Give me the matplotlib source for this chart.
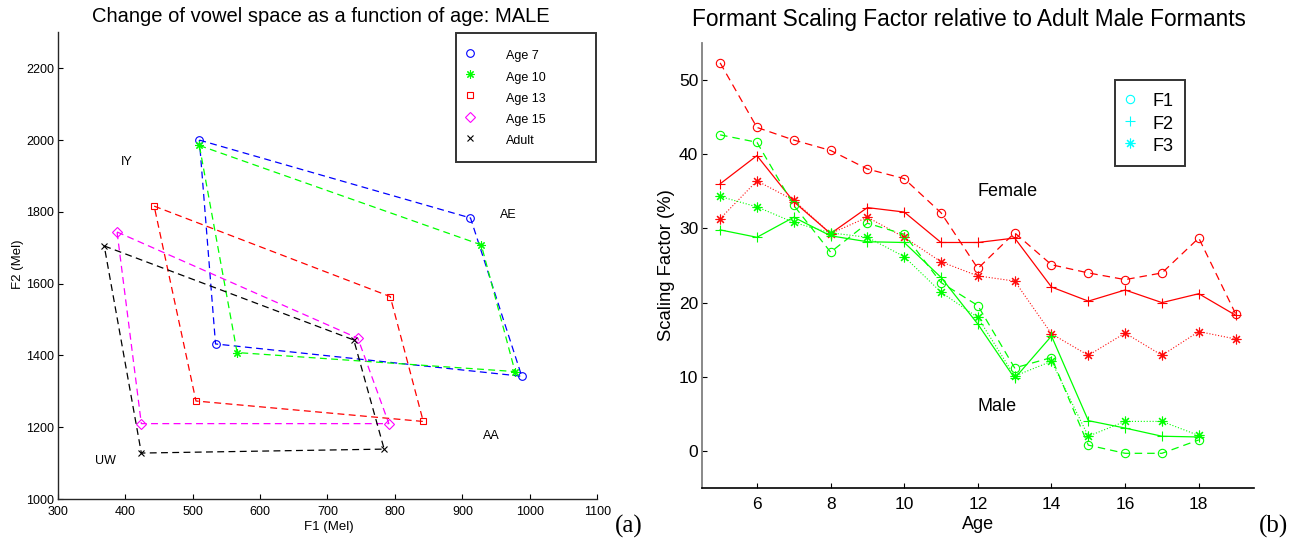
import numpy as np
import matplotlib
matplotlib.use('Agg')
import matplotlib.pyplot as plt
from matplotlib.lines import Line2D

plt.rcParams['font.family'] = ['Liberation Sans', 'DejaVu Sans']

# ---------------- Left panel data (vowel corners IY, AE, AA, UW) ----------------
vowels = ['IY', 'AE', 'AA', 'UW']
group_labels = ['Age 7', 'Age 10', 'Age 13', 'Age 15', 'Adult']
f1_age7 = [510, 912, 988, 534]
f2_age7 = [2000, 1783, 1342, 1432]
f1_age10 = [510, 928, 978, 566]
f2_age10 = [1985, 1708, 1355, 1408]
f1_age13 = [443, 793, 842, 505]
f2_age13 = [1816, 1564, 1216, 1273]
f1_age15 = [388, 745, 791, 424]
f2_age15 = [1744, 1448, 1210, 1210]
f1_adult = [369, 739, 784, 424]
f2_adult = [1705, 1443, 1139, 1128]
vowel_label_f1 = [393, 956, 931, 356]
vowel_label_f2 = [1938, 1790, 1175, 1106]
x_ticks_left = [300, 400, 500, 600, 700, 800, 900, 1000, 1100]
y_ticks_left = [1000, 1200, 1400, 1600, 1800, 2000, 2200]

# ---------------- Right panel data ----------------
ages_female = [5, 6, 7, 8, 9, 10, 11, 12, 13, 14, 15, 16, 17, 18, 19]
ages_male = [5, 6, 7, 8, 9, 10, 11, 12, 13, 14, 15, 16, 17, 18]
female_f1 = [52.3, 43.6, 41.9, 40.5, 38.0, 36.7, 32.1, 24.6, 29.4, 25.1, 24.0, 23.1, 24.0, 28.7, 18.5]
female_f2 = [36.0, 39.8, 33.6, 29.3, 32.8, 32.2, 28.1, 28.1, 28.7, 22.1, 20.2, 21.7, 20.0, 21.2, 18.3]
female_f3 = [31.3, 36.4, 33.8, 29.3, 31.5, 28.8, 25.5, 23.6, 22.9, 15.8, 12.9, 15.9, 12.9, 16.1, 15.1]
male_f1 = [42.6, 41.6, 33.1, 26.8, 30.7, 29.2, 22.7, 19.6, 11.2, 12.6, 0.8, -0.3, -0.3, 1.5]
male_f2 = [29.8, 28.8, 31.5, 29.0, 28.2, 28.1, 23.4, 17.1, 9.8, 15.5, 4.1, 3.1, 2.0, 1.9]
male_f3 = [34.3, 32.9, 30.8, 29.4, 28.8, 26.2, 21.4, 18.0, 10.1, 12.1, 2.0, 4.0, 4.0, 2.1]
formant_labels = ['F1', 'F2', 'F3']
x_ticks_right = [6, 8, 10, 12, 14, 16, 18]
y_ticks_right = [0, 10, 20, 30, 40, 50]

W, H = 1305, 543
fig = plt.figure(figsize=(W / 100, H / 100), dpi=100)

def px_axes(l, t, r, b):
    return fig.add_axes([l / W, 1 - b / H, (r - l) / W, (b - t) / H])

# ================= Left panel =================
ax1 = px_axes(57.7, 32.4, 597.3, 499.0)
styles = [
    ('#0000ff', 'o', 5.5),
    ('#00ff00', (8, 2, 0), 6.0),
    ('#ff0000', 's', 5.0),
    ('#ff00ff', 'D', 5.5),
    ('#000000', 'x', 4.5),
]
groups = [(f1_age7, f2_age7), (f1_age10, f2_age10), (f1_age13, f2_age13),
          (f1_age15, f2_age15), (f1_adult, f2_adult)]
handles = []
for (f1, f2), (col, mk, ms), lab in zip(groups, styles, group_labels):
    xs = np.r_[f1, f1[:1]]
    ys = np.r_[f2, f2[:1]]
    ax1.plot(xs, ys, color=col, lw=0.9, dashes=(5.5, 3.5))
    ax1.plot(f1, f2, linestyle='none', marker=mk, ms=ms, mfc='none', mec=col, mew=0.8)
    handles.append(Line2D([], [], linestyle='none', marker=mk, ms=ms, mfc='none', mec=col, mew=0.8, label=lab))

for v, x, y in zip(vowels, vowel_label_f1, vowel_label_f2):
    ax1.text(x, y, v, fontsize=9, ha='left', va='center')

ax1.set_xlim(300, 1100)
ax1.set_ylim(1000, 2300)
ax1.set_xticks(x_ticks_left)
ax1.set_yticks(y_ticks_left)
ax1.tick_params(direction='in', length=3.6, width=0.8, labelsize=9)
ax1.tick_params(axis='x', pad=5)
ax1.tick_params(axis='y', pad=2.4)
for s in ['top', 'right']:
    ax1.spines[s].set_visible(False)
for s in ['left', 'bottom']:
    ax1.spines[s].set_color('#262626')
    ax1.spines[s].set_linewidth(1.0)

leg1 = ax1.legend(handles=handles, loc='upper left', bbox_to_anchor=(0.7376, 0.0, 0.2600, 0.998),
                  mode='expand', borderaxespad=0, fontsize=9, frameon=True, fancybox=False,
                  borderpad=1.06, handleheight=1.8, labelspacing=0.28, handlelength=0.1,
                  handletextpad=2.86)
leg1.get_frame().set_edgecolor('black')
leg1.get_frame().set_linewidth(1.4)

fig.text(321.3 / W, 1 - 22.3 / H, 'Change of vowel space as a function of age: MALE',
         fontsize=14.5, ha='center', va='baseline')
fig.text(328.8 / W, 1 - 530.0 / H, 'F1 (Mel)', fontsize=9.5, ha='center', va='baseline')
fig.text(18.0 / W, 1 - 264.0 / H, 'F2 (Mel)', fontsize=9.5, ha='center', va='center', rotation=90)

# ================= Right panel =================
ax2 = px_axes(701.7, 42.8, 1254.0, 488.2)
red, green = '#ff0000', '#00ff00'
ax2.plot(ages_female, female_f1, color=red, lw=0.9, dashes=(6, 4), marker='o', ms=6, mfc='none', mew=0.8)
ax2.plot(ages_female, female_f2, color=red, lw=0.9, linestyle='-', marker='+', ms=7, mew=0.8)
ax2.plot(ages_female, female_f3, color=red, lw=0.8, linestyle=':', marker=(8, 2, 0), ms=7, mew=0.8, alpha=0.95)
ax2.plot(ages_male, male_f1, color=green, lw=0.9, dashes=(6, 4), marker='o', ms=6, mfc='none', mew=0.8)
ax2.plot(ages_male, male_f2, color=green, lw=0.9, linestyle='-', marker='+', ms=7, mew=0.8)
ax2.plot(ages_male, male_f3, color=green, lw=0.8, linestyle=':', marker=(8, 2, 0), ms=7, mew=0.8)

ax2.text(12, 35, 'Female', fontsize=13, ha='left', va='center')
ax2.text(12, 6, 'Male', fontsize=13, ha='left', va='center')

ax2.set_xlim(4.5, 19.5)
ax2.set_ylim(-5, 55)
ax2.set_xticks(x_ticks_right)
ax2.set_yticks(y_ticks_right)
ax2.tick_params(direction='in', length=3.8, width=0.8, labelsize=12.5)
ax2.tick_params(axis='x', pad=6.5)
ax2.tick_params(axis='y', pad=2.4)
for s in ['top', 'right']:
    ax2.spines[s].set_visible(False)
ax2.spines['left'].set_color('#808080')
ax2.spines['left'].set_linewidth(1.3)
ax2.spines['bottom'].set_color('#000000')
ax2.spines['bottom'].set_linewidth(1.2)

cyan = '#00ffff'
h2 = [Line2D([], [], linestyle='none', marker='o', ms=6, mfc='none', mec=cyan, mew=0.8),
      Line2D([], [], linestyle='none', marker='+', ms=7, mec=cyan, mew=0.8),
      Line2D([], [], linestyle='none', marker=(8, 2, 0), ms=7, mec=cyan, mew=0.8)]
leg2 = ax2.legend(h2, formant_labels, loc='upper left', bbox_to_anchor=(0.7478, 0.9165),
                  borderaxespad=0, fontsize=13, frameon=True, fancybox=False,
                  borderpad=0.61, handleheight=1.2, labelspacing=0.165, handlelength=0.5,
                  handletextpad=0.99)
leg2.get_frame().set_edgecolor('black')
leg2.get_frame().set_linewidth(1.4)

fig.text(968.6 / W, 1 - 26.3 / H, 'Formant Scaling Factor relative to Adult Male Formants',
         fontsize=16.3, ha='center', va='baseline')
fig.text(978.0 / W, 1 - 529.0 / H, 'Age', fontsize=13, ha='center', va='baseline')
fig.text(666.5 / W, 1 - 265.0 / H, 'Scaling Factor (%)', fontsize=13.3, ha='center', va='center', rotation=90)

# panel tags
serif = ['Liberation Serif', 'DejaVu Serif']
fig.text(615.0 / W, 1 - 533.0 / H, '(a)', fontsize=18, family=serif, ha='left', va='baseline')
fig.text(1259.3 / W, 1 - 533.0 / H, '(b)', fontsize=18, family=serif, ha='left', va='baseline')

fig.savefig('out.png', dpi=100)
